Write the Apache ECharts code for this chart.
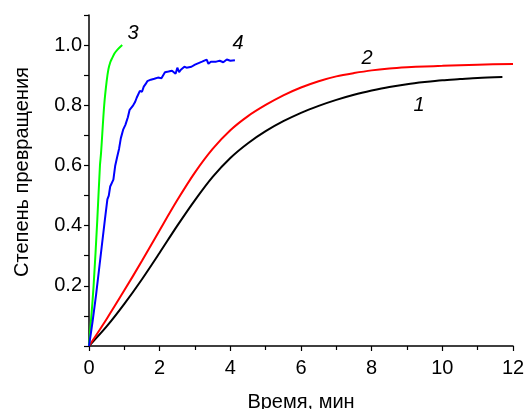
<!DOCTYPE html>
<html><head><meta charset="utf-8">
<script src="https://cdn.jsdelivr.net/npm/echarts@6/dist/echarts.min.js"></script>
<style>html,body{margin:0;padding:0;background:#fff}#c{width:526px;height:409px}</style>
</head><body><div id="c"></div>
<script>
var xTicks = [0, 2, 4, 6, 8, 10, 12];
var yTicks = [0.2, 0.4, 0.6, 0.8, 1.0];
var curve1 = [[0,0],[0.5,0.065],[1,0.14],[1.5,0.222],[2,0.31],[2.5,0.4],[3,0.485],[3.5,0.562],[4,0.625],[4.5,0.674],[5,0.714],[5.5,0.747],[6,0.775],[6.5,0.798],[7,0.818],[7.5,0.835],[8,0.849],[8.5,0.861],[9,0.87],[9.5,0.877],[10,0.883],[10.5,0.887],[11,0.891],[11.7,0.894]];
var curve2 = [[0,0],[0.5,0.09],[1,0.185],[1.5,0.283],[2,0.385],[2.5,0.485],[3,0.577],[3.5,0.655],[4,0.717],[4.5,0.764],[5,0.801],[5.5,0.833],[6,0.859],[6.5,0.88],[7,0.896],[7.5,0.907],[8,0.916],[8.5,0.922],[9,0.926],[9.5,0.929],[10,0.931],[11,0.935],[12,0.937]];
var curve3 = [[0,0],[0.13,0.2],[0.235,0.42],[0.31,0.6],[0.34,0.64],[0.43,0.8],[0.5,0.88],[0.55,0.92],[0.6,0.942],[0.64,0.953],[0.67,0.96],[0.72,0.972],[0.8,0.984],[0.94,1.0]];
var curve4 = [[0,0],[0.1,0.08],[0.2,0.17],[0.3,0.27],[0.36,0.33],[0.45,0.42],[0.52,0.487],[0.56,0.5],[0.6,0.53],[0.69,0.553],[0.74,0.598],[0.8,0.63],[0.85,0.655],[0.9,0.69],[0.97,0.72],[1.03,0.735],[1.1,0.76],[1.15,0.785],[1.2,0.78],[1.25,0.8],[1.3,0.81],[1.35,0.825],[1.4,0.83],[1.44,0.848],[1.5,0.845],[1.55,0.862],[1.6,0.87],[1.65,0.88],[1.7,0.875],[1.75,0.885],[1.8,0.88],[1.85,0.888],[1.9,0.885],[1.95,0.892],[2.0,0.895],[2.05,0.89],[2.1,0.9],[2.15,0.91],[2.2,0.905],[2.25,0.912],[2.3,0.906],[2.35,0.915],[2.4,0.92],[2.45,0.905],[2.5,0.925],[2.55,0.91],[2.6,0.918],[2.65,0.922],[2.7,0.928],[2.76,0.925],[2.8,0.93],[2.9,0.928],[3.0,0.935],[3.1,0.94],[3.15,0.938],[3.2,0.945],[3.25,0.94],[3.33,0.952],[3.38,0.938],[3.45,0.945],[3.5,0.95],[3.6,0.945],[3.7,0.948],[3.8,0.943],[3.9,0.952],[4.0,0.948],[4.05,0.953],[4.13,0.95]];
var curveLabels = [[9.34,0.80,'1'],[7.87,0.957,'2'],[1.245,1.04,'3'],[4.22,1.007,'4']];
var xTitle = 'Время, мин';
var yTitle = 'Степень превращения';

var FONT = '"Liberation Sans", Arial, sans-serif';
var chart = echarts.init(document.getElementById('c'), null, {renderer:'canvas'});
function lineSeries(data, color, smooth){
  return {type:'line', data:data, showSymbol:false, smooth:smooth, lineStyle:{color:color,width:2}, itemStyle:{color:color}, animation:false, z:3};
}
chart.setOption({
  animation:false,
  grid:{left:89, right:13, top:15, bottom:63, containLabel:false, outerBoundsMode:'none'},
  xAxis:{type:'value', min:0, max:12, interval:2,
    name:xTitle, nameLocation:'middle', nameGap:46,
    nameTextStyle:{fontFamily:FONT, fontSize:20, color:'#000'},
    axisLine:{lineStyle:{color:'#000',width:1.5}},
    axisTick:{show:true, inside:false, length:5, lineStyle:{color:'#000',width:1.2}},
    minorTick:{show:true, splitNumber:2, length:4, lineStyle:{color:'#000',width:1.2}},
    splitLine:{show:false},
    axisLabel:{fontFamily:FONT, fontSize:20, color:'#000', margin:12,
      formatter:function(v){return xTicks.indexOf(v)>=0 ? String(v) : '';}}
  },
  yAxis:{type:'value', min:0, max:1.1, interval:0.2,
    axisLine:{show:true, lineStyle:{color:'#000',width:1.5}},
    axisTick:{show:true, inside:false, length:5, lineStyle:{color:'#000',width:1.2}},
    minorTick:{show:true, splitNumber:2, length:5, lineStyle:{color:'#000',width:1.2}},
    splitLine:{show:false},
    axisLabel:{fontFamily:FONT, fontSize:20, color:'#000', margin:7,
      formatter:function(v){
        for (var i=0;i<yTicks.length;i++){ if (Math.abs(yTicks[i]-v)<1e-6) return yTicks[i].toFixed(1); }
        return '';
      }}
  },
  graphic:[{type:'text', x:22, y:172, rotation:Math.PI/2,
    style:{text:yTitle, font:'20px '+FONT, fill:'#000', align:'center', verticalAlign:'middle'}}],
  series:[
    lineSeries(curve1,'#000000',0.3),
    lineSeries(curve2,'#ff0000',0.3),
    lineSeries(curve3,'#00ff00',0.3),
    lineSeries(curve4,'#0000ff',false),
    {type:'scatter', data:curveLabels.map(function(d){return {value:[d[0],d[1]], name:d[2]};}),
     symbolSize:0, itemStyle:{color:'#000', opacity:1},
     label:{show:true, position:'inside', formatter:function(p){return p.name;}, fontFamily:FONT, fontSize:20, fontStyle:'italic', color:'#000', textBorderWidth:0, opacity:1}}
  ]
});
</script></body></html>
